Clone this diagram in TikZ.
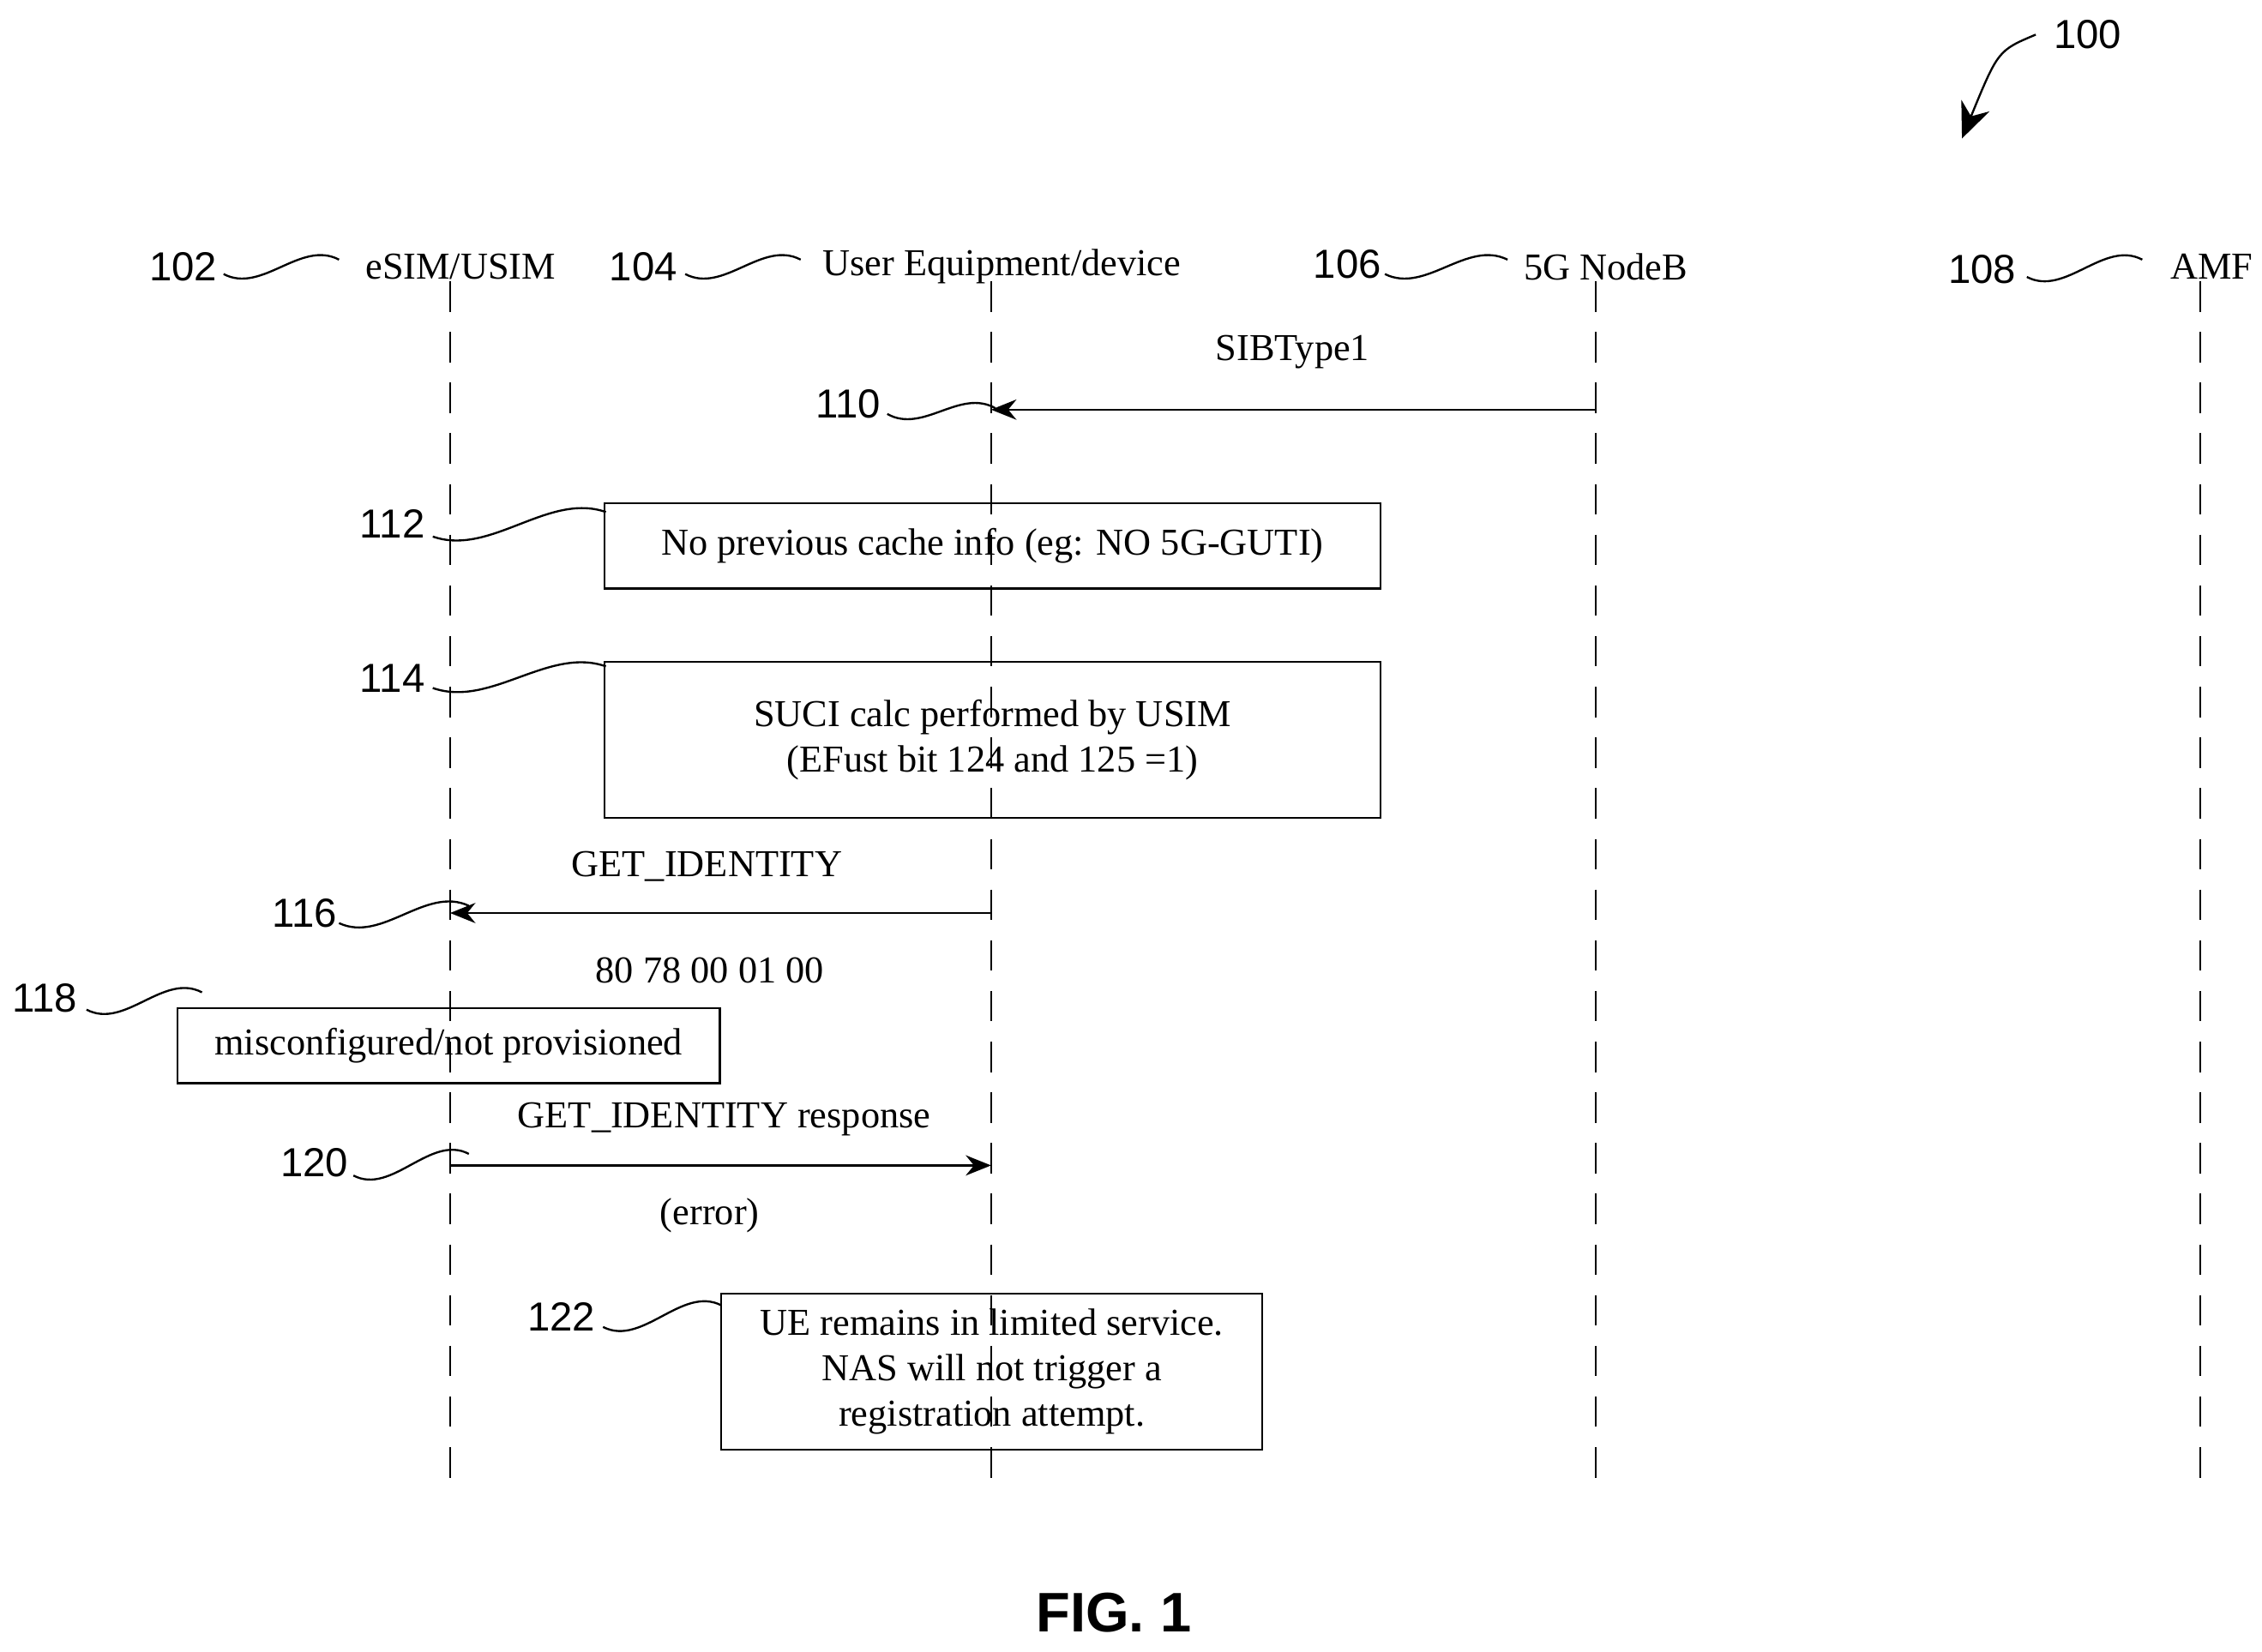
\documentclass[tikz,border=0pt]{standalone}
\usepackage{fontspec}
\setmainfont{Liberation Serif}
\setsansfont{Liberation Sans}
\usetikzlibrary{arrows.meta,positioning}
\tikzset{
  life/.style = {dashed, dash pattern=on 6pt off 4pt, thin},
  msg/.style = {thin, -{Stealth[length=5pt,width=4pt]}},
  box/.style = {draw, thin, font=\fontsize{7.5}{9}\selectfont, align=center, inner sep=0pt},
  txt/.style = {font=\fontsize{7.5}{9}\selectfont},
  refnum/.style = {font=\sffamily\fontsize{8}{9}\selectfont},
}
\newcommand{\squig}[4]{% x1,y1,x2,y2 (in px)
  \draw[thin] (#1/100,-#2/100) .. controls ({(#1+(#3-#1)/3)/100},{-#2/100-0.14}) and ({(#1+2*(#3-#1)/3)/100},{-#4/100+0.14}) .. (#3/100,-#4/100);}
\begin{document}
\begin{tikzpicture}
\useasboundingbox (0,0) rectangle (15.68,-11.45);
%% header
\node[txt, anchor=west] (usim) at (2.41,-1.85) {eSIM/USIM};
\node[txt, anchor=west] (ue) at (5.58,-1.85) {User Equipment/device};
\node[txt, anchor=west] (gnb) at (10.44,-1.85) {5G NodeB};
\node[txt, anchor=west] (amf) at (14.92,-1.85) {AMF};
\node[refnum] (n102) at (1.27,-1.85) {102};
\node[refnum] (n104) at (4.46,-1.85) {104};
\node[refnum] (n106) at (9.34,-1.83) {106};
\node[refnum] (n108) at (13.74,-1.87) {108};
\squig{155}{190}{235}{180}
\squig{475}{190}{555}{180}
\squig{960}{190}{1045}{180}
\squig{1405}{192}{1485}{180}
%% lifelines
\foreach \n/\x in {usim/3.12, ue/6.87, gnb/11.06, amf/15.25}{
  \coordinate (\n top) at (\x,-1.95);
  \coordinate (\n bot) at (\x,-10.27);
  \draw[life] (\n top) -- (\n bot);
}
%% 110
\coordinate (a110) at (11.06,-2.84);
\coordinate (b110) at (6.87,-2.84);
\draw[msg] (a110) -- (b110);
\node[txt] (sib) at (8.96,-2.44) {SIBType1};
\node[refnum] (n110) at (5.88,-2.80) {110};
\squig{615}{287}{690}{283}
%% 112 / 114
\node[box, minimum width=5.38cm, minimum height=0.59cm] (cache) at (6.88,-3.785) {No previous cache info (eg: NO 5G-GUTI)};
\node[refnum] (n112) at (2.72,-3.63) {112};
\squig{300}{372}{420}{355}
\node[box, minimum width=5.38cm, minimum height=1.08cm] (suci) at (6.88,-5.13) {SUCI calc performed by USIM\\(EFust bit 124 and 125 =1)};
\node[refnum] (n114) at (2.72,-4.70) {114};
\squig{300}{477}{420}{462}
%% 116
\coordinate (a116) at (6.87,-6.33);
\coordinate (b116) at (3.12,-6.33);
\draw[msg] (a116) -- (b116);
\node[txt] (getid) at (4.90,-6.01) {GET\_IDENTITY};
\node[txt] (apdu) at (4.92,-6.73) {80 78 00 01 00};
\node[refnum] (n116) at (2.11,-6.33) {116};
\squig{235}{640}{325}{628}
%% 118
\node[box, minimum width=3.76cm, minimum height=0.52cm] (miscfg) at (3.11,-7.25) {misconfigured/not provisioned};
\node[refnum] (n118) at (0.31,-6.92) {118};
\squig{60}{700}{140}{688}
%% 120
\coordinate (a120) at (3.12,-8.08);
\coordinate (b120) at (6.87,-8.08);
\draw[msg] (a120) -- (b120);
\node[txt] (getresp) at (5.02,-7.76) {GET\_IDENTITY response};
\node[txt] (err) at (4.92,-8.43) {(error)};
\node[refnum] (n120) at (2.18,-8.06) {120};
\squig{245}{815}{325}{800}
%% 122
\node[box, minimum width=3.75cm, minimum height=1.08cm] (limited) at (6.875,-9.51) {UE remains in limited service.\\NAS will not trigger a\\registration attempt.};
\node[refnum] (n122) at (3.89,-9.13) {122};
\squig{418}{920}{500}{905}
%% 100
\node[refnum] (n100) at (14.47,-0.24) {100};
\coordinate (p100) at (13.60,-0.96);
\draw[thin, -{Stealth[length=7pt,width=6pt]}] (n100.west) .. controls (13.85,-0.35) .. (p100);
\node[font=\sffamily\bfseries\fontsize{11}{12}\selectfont] (fig) at (7.72,-11.18) {FIG. 1};
\end{tikzpicture}
\end{document}
